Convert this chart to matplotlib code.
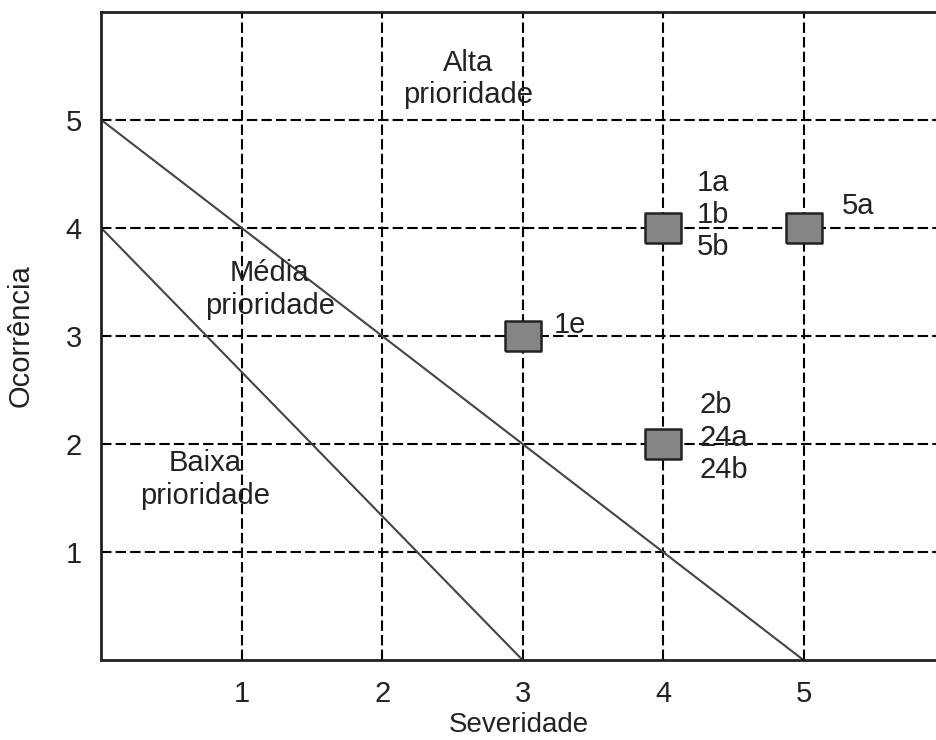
import numpy as np
import matplotlib.pyplot as plt

plt.rcParams["font.family"] = ["Liberation Sans", "DejaVu Sans"]

# failure modes: severity, occurrence, codes
sev = [4, 5, 3, 4]
occ = [4, 4, 3, 2]
codes = ["1a\n1b\n5b", "5a", "1e", "2b\n24a\n24b"]
code_pos = [(4.24, 4.12), (5.27, 4.2), (3.22, 3.1), (4.26, 2.06)]

# priority boundaries
upper_x, upper_y = [0, 5], [5, 0]
lower_x, lower_y = [0, 3], [4, 0]

zones = ["Alta\nprioridade", "Média\nprioridade", "Baixa\nprioridade"]
zone_pos = [(2.61, 5.38), (1.2, 3.43), (0.74, 1.67)]

# slightly wide square marker, like the original
box = [(-1.2, -1), (1.2, -1), (1.2, 1), (-1.2, 1), (-1.2, -1)]

fig = plt.figure(figsize=(9.37, 7.4), dpi=100)
ax = fig.add_axes([0.108, 0.108, 0.892, 0.876])

ax.plot(upper_x, upper_y, color="#444444", lw=1.5)
ax.plot(lower_x, lower_y, color="#444444", lw=1.5)
ax.plot(sev, occ, marker=box, ls="none", ms=26, mfc="#858585", mec="#222222",
        mew=1.8, zorder=5)

for (x, y), t in zip(code_pos, codes):
    ax.text(x, y, t, fontsize=21, va="center", ha="left", color="#222222",
            linespacing=1.2)
for (x, y), t in zip(zone_pos, zones):
    ax.text(x, y, t, fontsize=21, va="center", ha="center", color="#222222",
            linespacing=1.2)

ax.set_xlim(0, 5.95)
ax.set_ylim(0, 6.0)
ax.set_xticks([1, 2, 3, 4, 5])
ax.set_yticks([1, 2, 3, 4, 5])
ax.tick_params(length=0, labelsize=21, pad=14, colors="#222222")
ax.grid(True, color="black", ls=(0, (5, 2)), lw=1.5)
for s in ["left", "bottom", "top"]:
    ax.spines[s].set_linewidth(2)
    ax.spines[s].set_color("#222222")
ax.spines["right"].set_visible(False)

ax.set_xlabel("Severidade", fontsize=20, labelpad=3, color="#222222")
ax.set_ylabel("Ocorrência", fontsize=21, labelpad=22, color="#222222")

plt.savefig("out.png", dpi=100)
